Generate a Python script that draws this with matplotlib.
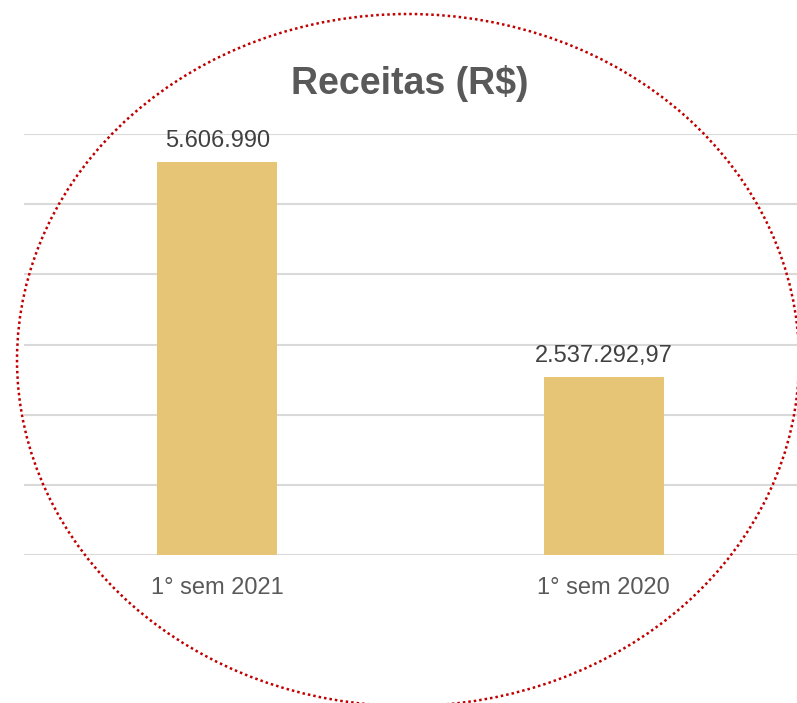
import matplotlib.pyplot as plt
from matplotlib.patches import Ellipse

# dados do grafico
periodos = ["1° sem 2021", "1° sem 2020"]
receitas = [5606990, 2537292.97]
rotulos = ["5.606.990", "2.537.292,97"]

plt.rcParams["font.family"] = ["Liberation Sans", "DejaVu Sans"]

fig = plt.figure(figsize=(7.97, 7.03), dpi=100)
ax = fig.add_axes([24 / 797, 147.7 / 703, 1 - 24 / 797, 421.3 / 703])

x = list(range(len(periodos)))
ax.bar(x, receitas, width=0.31, color="#E6C576", zorder=2)

ax.set_xlim(-0.5, 1.5)
ax.set_ylim(0, 6000000)
ax.set_yticks([i * 1000000 for i in range(7)])
ax.yaxis.grid(True, color="#D9D9D9", linewidth=1.5)
ax.set_axisbelow(True)
ax.tick_params(axis="y", left=False, labelleft=False)
ax.tick_params(axis="x", bottom=False, pad=12, labelsize=17, labelcolor="#595959")
ax.set_xticks(x)
ax.set_xticklabels(periodos)
for s in ax.spines.values():
    s.set_visible(False)

# rotulos de dados
for xi, v, r in zip(x, receitas, rotulos):
    ax.annotate(r, (xi, v), xytext=(0, 10.8), textcoords="offset points",
                ha="center", va="baseline", fontsize=17, color="#404040")

# titulo
fig.text(410 / 797, 1 - 94 / 703, "Receitas (R$)", ha="center", va="baseline",
         fontsize=27, fontweight="bold", color="#595959")

# elipse pontilhada vermelha
elipse = Ellipse((408 / 797, 1 - 360 / 703), 782 / 797, 692 / 703,
                 transform=fig.transFigure, fill=False, edgecolor="#C00000",
                 linewidth=1.8, linestyle=(0, (1, 1.2)), zorder=5)
fig.patches.append(elipse)

plt.savefig("out.png", dpi=100)
plt.close()
